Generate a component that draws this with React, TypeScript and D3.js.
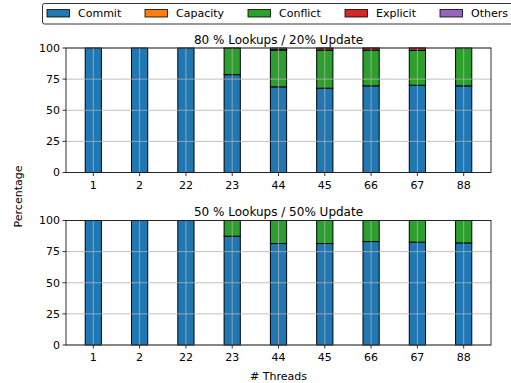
import React from 'react';
import * as d3 from 'd3';

const threads = ['1', '2', '22', '23', '44', '45', '66', '67', '88'];
const seriesNames = ['Commit', 'Capacity', 'Conflict', 'Explicit', 'Others'];
const seriesColors = ['#1f77b4', '#ff7f0e', '#2ca02c', '#d62728', '#9467bd'];
const yTicks = [0, 25, 50, 75, 100];

// 80% lookups / 20% update
const commitA = [100, 100, 100, 78.6, 68.8, 67.7, 69.6, 70.1, 69.6];
const capacityA = [0, 0, 0, 0, 0, 0, 0, 0, 0];
const conflictA = [0, 0, 0, 21.2, 29.6, 30.6, 28.7, 28.0, 30.4];
const explicitA = [0, 0, 0, 0, 0.2, 1.5, 1.5, 1.8, 0];
const othersA = [0, 0, 0, 0.2, 1.4, 0.2, 0.2, 0.1, 0];

// 50% lookups / 50% update
const commitB = [100, 100, 100, 87.4, 81.5, 81.5, 83.1, 82.6, 82.0];
const capacityB = [0, 0, 0, 0, 0, 0, 0, 0, 0];
const conflictB = [0, 0, 0, 12.6, 18.5, 18.5, 16.9, 17.4, 18.0];
const explicitB = [0, 0, 0, 0, 0, 0, 0, 0, 0];
const othersB = [0, 0, 0, 0, 0, 0, 0, 0, 0];

const panels = [
  { title: '80 % Lookups / 20% Update', top: 48, series: [commitA, capacityA, conflictA, explicitA, othersA] },
  { title: '50 % Lookups / 50% Update', top: 220.5, series: [commitB, capacityB, conflictB, explicitB, othersB] },
];

const W = 511;
const H = 383;
const left = 66;
const right = 491;
const panelH = 124.5;
const barW = 0.35;
const font = 'DejaVu Sans, sans-serif';

function Panel({ title, top, series }: { title: string; top: number; series: number[][] }) {
  const x = d3.scaleLinear().domain([-0.59, threads.length - 1 + 0.59]).range([left, right]);
  const y = d3.scaleLinear().domain([0, 100]).range([top + panelH, top]);
  const rows = threads.map((t, i) => {
    const r: any = { t };
    seriesNames.forEach((s, k) => (r[s] = series[k][i]));
    return r;
  });
  const stacked = d3.stack().keys(seriesNames)(rows);
  const bw = x(barW) - x(0);

  return (
    <g>
      <text x={(left + right) / 2} y={top - 4.5} textAnchor="middle" fontSize={12} fontFamily={font}>{title}</text>
      {stacked.map((layer, k) => (
        <g key={layer.key}>
          {layer.map((d, i) =>
            d[1] - d[0] > 0 ? (
              <rect key={i} x={x(i) - bw / 2} y={y(d[1])} width={bw} height={y(d[0]) - y(d[1])}
                fill={seriesColors[k]} stroke="#000" strokeWidth={1} />
            ) : null
          )}
        </g>
      ))}
      {/* grid drawn on top of bars */}
      {yTicks.map(v => (
        <line key={'gy' + v} x1={left} x2={right} y1={y(v)} y2={y(v)} stroke="#b0b0b0" strokeWidth={0.8} />
      ))}
      {threads.map((t, i) => (
        <line key={'gx' + t} x1={x(i)} x2={x(i)} y1={top} y2={top + panelH} stroke="#b0b0b0" strokeWidth={0.8} />
      ))}
      <rect x={left} y={top} width={right - left} height={panelH} fill="none" stroke="#000" strokeWidth={0.8} />
      {yTicks.map(v => (
        <g key={'ty' + v}>
          <line x1={left - 3.5} x2={left} y1={y(v)} y2={y(v)} stroke="#000" strokeWidth={0.8} />
          <text x={left - 6} y={y(v)} dy="0.35em" textAnchor="end" fontSize={11} fontFamily={font}>{v}</text>
        </g>
      ))}
      {threads.map((t, i) => (
        <g key={'tx' + t}>
          <line x1={x(i)} x2={x(i)} y1={top + panelH} y2={top + panelH + 3.5} stroke="#000" strokeWidth={0.8} />
          <text x={x(i)} y={top + panelH + 16} textAnchor="middle" fontSize={11} fontFamily={font}>{t}</text>
        </g>
      ))}
    </g>
  );
}

export default function App() {
  const legendX = [47, 145, 248, 345, 440];
  return (
    <svg width={W} height={H} style={{ position: 'absolute', left: 0, top: 0 }}>
      <rect width={W} height={H} fill="#fff" />
      {panels.map(p => <Panel key={p.title} {...p} />)}
      <text transform={`translate(21.5,196.5) rotate(-90)`} textAnchor="middle" fontSize={11} fontFamily={font}>Percentage</text>
      <text x={(left + right) / 2} y={380} textAnchor="middle" fontSize={11} fontFamily={font}># Threads</text>
      <rect x={42.5} y={3.5} width={480} height={20.5} rx={2} fill="#fff" stroke="#000" strokeWidth={0.8} />
      {seriesNames.map((s, k) => (
        <g key={s}>
          <rect x={legendX[k]} y={9.5} width={22.5} height={7.5} fill={seriesColors[k]} stroke="#000" strokeWidth={0.8} />
          <text x={legendX[k] + 31} y={13.5} dy="0.35em" fontSize={11} fontFamily={font}>{s}</text>
        </g>
      ))}
    </svg>
  );
}
